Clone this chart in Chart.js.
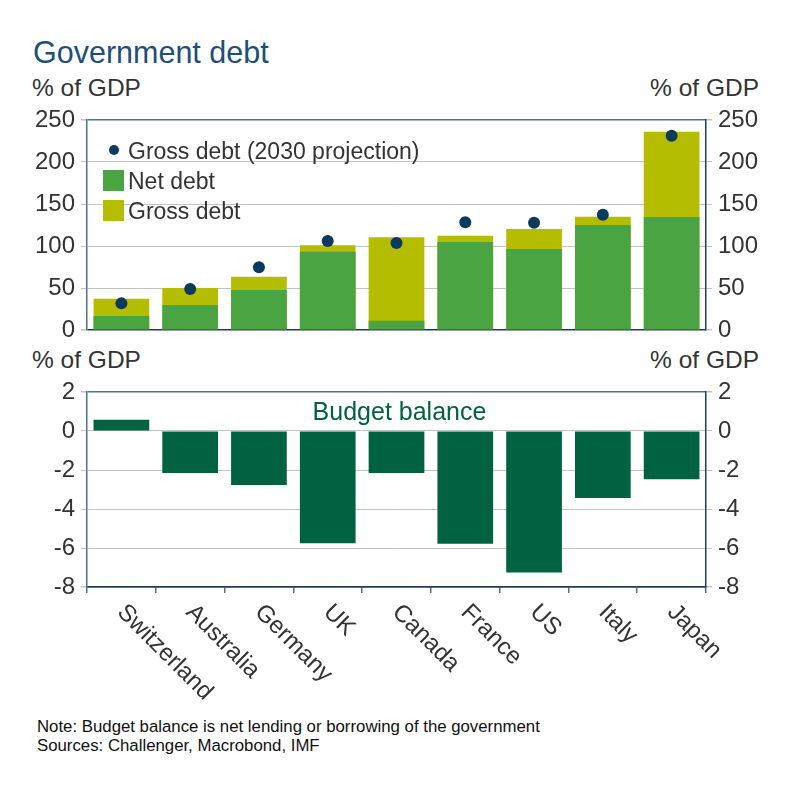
<!DOCTYPE html>
<html>
<head>
<meta charset="utf-8">
<script src="https://cdn.jsdelivr.net/npm/chart.js@4.4.1/dist/chart.umd.min.js"></script>
<style>
  html, body { margin: 0; padding: 0; background: #fff; }
  body { width: 794px; height: 793px; position: relative; overflow: hidden; font-family: "Liberation Sans", Arial, sans-serif; }
  .abs { position: absolute; white-space: nowrap; }
  #title { left: 33px; top: 35px; font-size: 30.5px; color: #1f4e79; }
  .unit { font-size: 24.5px; color: #333; }
  #legend { left: 100px; top: 136px; font-size: 23px; color: #333; }
  #legend .row { height: 30px; line-height: 30px; position: relative; padding-left: 28px; }
  #legend .dot { position: absolute; left: 9px; top: 9px; width: 10px; height: 10px; border-radius: 50%; background: #0b3a5e; }
  #legend .sq { position: absolute; left: 3px; top: 4px; width: 21px; height: 21px; }
  #bb { left: 90px; width: 619px; text-align: center; top: 397px; font-size: 25px; color: #006241; }
  #note { left: 37px; top: 717px; font-size: 16.8px; color: #111; line-height: 19px; }
  canvas { position: absolute; left: 0; }
</style>
</head>
<body>
<div id="title" class="abs">Government debt</div>
<div class="abs unit" style="left:32px; top:74px;">% of GDP</div>
<div class="abs unit" style="right:35px; top:74px;">% of GDP</div>
<div class="abs unit" style="left:32px; top:346px;">% of GDP</div>
<div class="abs unit" style="right:35px; top:346px;">% of GDP</div>

<div id="c1wrap" style="position:absolute;left:0;top:98px;width:794px;height:255px;"><canvas id="c1"></canvas></div>
<div id="c2wrap" style="position:absolute;left:0;top:370px;width:794px;height:340px;"><canvas id="c2"></canvas></div>

<div id="legend" class="abs">
  <div class="row"><span class="dot"></span>Gross debt (2030 projection)</div>
  <div class="row"><span class="sq" style="background:#4aa441"></span>Net debt</div>
  <div class="row"><span class="sq" style="background:#b5bd00"></span>Gross debt</div>
</div>
<div id="bb" class="abs">Budget balance</div>
<div id="note" class="abs">Note: Budget balance is net lending or borrowing of the government<br>Sources: Challenger, Macrobond, IMF</div>

<script>
const categories = ["Switzerland", "Australia", "Germany", "UK", "Canada", "France", "US", "Italy", "Japan"];
const netDebt = [16.7, 29.8, 47.6, 93.3, 11, 104.8, 96.4, 125, 134.5];
const grossDebt = [37.3, 50, 63.5, 100.8, 110.3, 112.3, 120.2, 134.9, 236];
const grossDebt2030 = [31.7, 48.8, 74.6, 106, 103.6, 128.2, 127.8, 137.3, 231.3];
const budgetBalance = [0.58, -2.15, -2.77, -5.75, -2.15, -5.78, -7.25, -3.43, -2.48];
const debtTicks = [0, 50, 100, 150, 200, 250];
const balanceTicks = [-8, -6, -4, -2, 0, 2];

const FONT = "'Liberation Sans', Arial, sans-serif";
const TXT = '#333333';
const GRID = '#c3c3c3';
const BORDER_L = '#4f7290';
const BORDER_R = '#1d3d5c';

function yAxis(pos, min, max, step, drawGrid) {
  return {
    position: pos,
    min: min, max: max,
    afterFit: s => { s.width = pos === 'left' ? 87 : 88; },
    ticks: { stepSize: step, padding: 6, color: TXT, font: { family: FONT, size: 24 } },
    grid: {
      drawOnChartArea: drawGrid,
      tickLength: 6,
      tickColor: GRID,
      color: ctx => (ctx.tick && ctx.tick.value === max) ? BORDER_L : (ctx.tick && ctx.tick.value === min ? BORDER_R : GRID),
      lineWidth: ctx => (ctx.tick && (ctx.tick.value === max || ctx.tick.value === min)) ? 1.5 : 1
    },
    border: { display: true, color: pos === 'left' ? BORDER_L : BORDER_R, width: 1.5 }
  };
}

new Chart(document.getElementById('c1'), {
  data: {
    labels: categories,
    datasets: [
      { type: 'line', label: 'Gross debt (2030 projection)', data: grossDebt2030, showLine: false,
        pointRadius: 6, pointHoverRadius: 6, pointBackgroundColor: '#0b3a5e', pointBorderWidth: 0, yAxisID: 'y' },
      { type: 'bar', label: 'Net debt', data: netDebt, backgroundColor: '#4aa441', yAxisID: 'y',
        barPercentage: 0.81, categoryPercentage: 1.0 },
      { type: 'bar', label: 'Gross debt', data: grossDebt, backgroundColor: '#b5bd00', yAxisID: 'y',
        barPercentage: 0.81, categoryPercentage: 1.0 }
    ]
  },
  options: {
    responsive: true, maintainAspectRatio: false, animation: false,
    layout: { autoPadding: false, padding: { top: 22, bottom: 23, left: 0, right: 0 } },
    plugins: { legend: { display: false }, tooltip: { enabled: false } },
    scales: {
      x: { display: false, stacked: true, offset: true },
      y: Object.assign(yAxis('left', 0, 250, 50, true), { stacked: false }),
      y2: yAxis('right', 0, 250, 50, false)
    }
  }
});

const rotLabels = {
  id: 'rotLabels',
  afterDraw(chart) {
    const ctx = chart.ctx;
    const xs = chart.scales.x;
    const yb = chart.chartArea.bottom;
    ctx.save();
    ctx.font = "24px " + FONT;
    ctx.fillStyle = TXT;
    ctx.textAlign = 'left';
    ctx.textBaseline = 'top';
    categories.forEach((c, i) => {
      const px = xs.getPixelForValue(i);
      ctx.save();
      ctx.translate(px + 8, yb + 13);
      ctx.rotate(Math.PI / 4);
      ctx.fillText(c, 0, 0);
      ctx.restore();
    });
    ctx.restore();
  }
};

new Chart(document.getElementById('c2'), {
  type: 'bar',
  data: {
    labels: categories,
    datasets: [
      { label: 'Budget balance', data: budgetBalance, backgroundColor: '#006241',
        barPercentage: 0.81, categoryPercentage: 1.0, yAxisID: 'y' }
    ]
  },
  options: {
    responsive: true, maintainAspectRatio: false, animation: false,
    layout: { autoPadding: false, padding: { top: 22, bottom: 117, left: 0, right: 0 } },
    plugins: { legend: { display: false }, tooltip: { enabled: false } },
    scales: {
      x: {
        offset: true,
        afterFit: s => { s.height = 6; },
        ticks: { display: false },
        grid: { offset: true, drawOnChartArea: false, tickLength: 6, tickColor: BORDER_L, lineWidth: 1.5 },
        border: { display: true, color: BORDER_R, width: 1.5 }
      },
      y: yAxis('left', -8, 2, 2, true),
      y2: yAxis('right', -8, 2, 2, false)
    }
  },
  plugins: [rotLabels]
});
</script>
</body>
</html>
